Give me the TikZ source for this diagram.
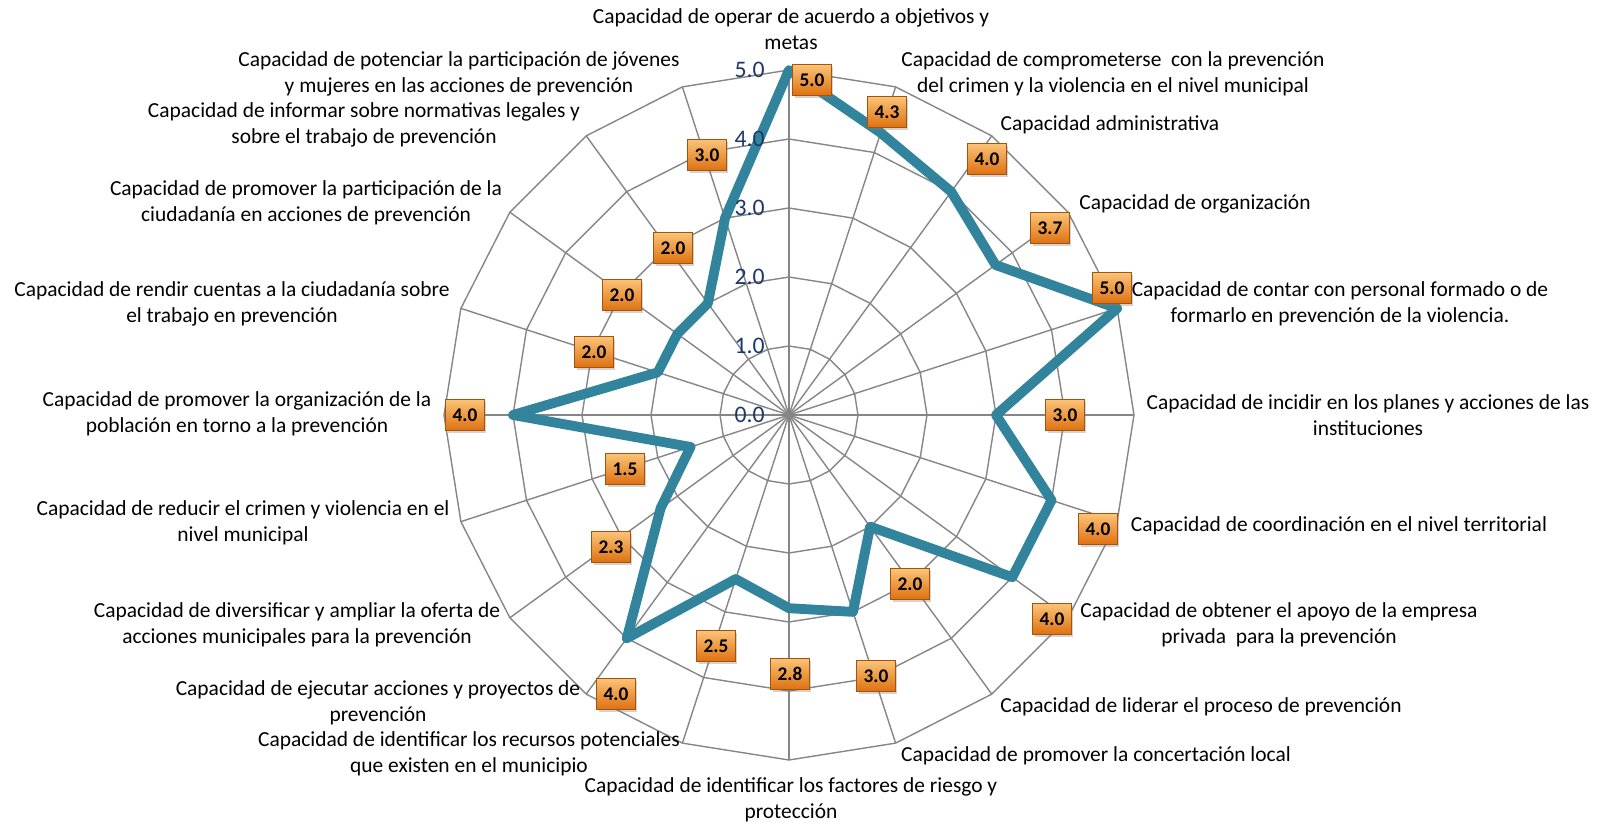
\documentclass[tikz,border=0pt]{standalone}
\usepackage{fontspec}
\setmainfont{Carlito}
\usepackage{xcolor}
\usepackage{tikz}
\usetikzlibrary{positioning}
\usetikzlibrary{shadows}

\definecolor{serie}{RGB}{49,132,155}
\definecolor{rejilla}{RGB}{134,134,134}
\definecolor{eje}{RGB}{28,56,106}
\definecolor{naranjaclaro}{RGB}{251,196,120}
\definecolor{naranjamedio}{RGB}{241,150,45}
\definecolor{naranjaoscuro}{RGB}{222,112,16}
\definecolor{bordenaranja}{RGB}{165,82,12}

\begin{document}
\begin{tikzpicture}[x=0.02cm, y=0.02cm, grid/.style={draw=rejilla, line width=0.8pt}, serie/.style={draw=serie, line width=5.6pt, line join=round}, tick/.style={text=eje, font=\fontsize{13.5}{14}\selectfont, anchor=east, inner sep=0pt}, cat/.style={align=center, font=\fontsize{12.2}{14.6}\selectfont, inner sep=0pt}, valor/.style={rectangle, draw=bordenaranja, line width=0.5pt, top color=naranjaclaro, middle color=naranjamedio, bottom color=naranjaoscuro, font=\fontsize{11}{12}\selectfont\bfseries, minimum width=22pt, minimum height=18pt, inner sep=0pt, drop shadow={shadow xshift=1.2pt, shadow yshift=-1.4pt, opacity=0.35}}]
	\useasboundingbox (-789,-410) rectangle (817,415);
	% rejilla
	\foreach \k in {0,...,19}
		\draw[grid] (0,0) -- ({90-18*\k}:345);
	\foreach \r in {69,138,207,276,345}
		\draw[grid] (90:\r) \foreach \k in {1,...,19}{ -- ({90-18*\k}:\r)} -- cycle;
	% serie
	\foreach \v [count=\k from 0] in {5.0,4.3,4.0,3.7,5.0,3.0,4.0,4.0,2.0,3.0,2.8,2.5,4.0,2.3,1.5,4.0,2.0,2.0,2.0,3.0}
		\coordinate (p\k) at ({90-18*\k}:69*\v);
	\draw[serie] (p0) \foreach \k in {1,...,19}{ -- (p\k)} -- cycle;
	\foreach \v in {0,...,5}
		\node[tick] (t\v) at (-24,69*\v) {\v.0};
	% etiquetas de valor
	\node[valor] (v1) at (23,335) {5.0};
	\node[valor] (v2) at (98,303) {4.3};
	\node[valor] (v3) at (198,256) {4.0};
	\node[valor] (v4) at (261,187) {3.7};
	\node[valor] (v5) at (323,127) {5.0};
	\node[valor] (v6) at (276,0) {3.0};
	\node[valor] (v7) at (309,-114) {4.0};
	\node[valor] (v8) at (263,-204) {4.0};
	\node[valor] (v9) at (121,-169) {2.0};
	\node[valor] (v10) at (87,-261) {3.0};
	\node[valor] (v11) at (1,-259) {2.8};
	\node[valor] (v12) at (-73,-231) {2.5};
	\node[valor] (v13) at (-173,-279) {4.0};
	\node[valor] (v14) at (-178,-132) {2.3};
	\node[valor] (v15) at (-164,-54) {1.5};
	\node[valor] (v16) at (-324,0) {4.0};
	\node[valor] (v17) at (-195,63) {2.0};
	\node[valor] (v18) at (-167,120) {2.0};
	\node[valor] (v19) at (-116,167) {2.0};
	\node[valor] (v20) at (-82,260) {3.0};
	% categorias
	\node[cat] (c1) at (2,386) {Capacidad de operar de acuerdo a objetivos y\\metas};
	\node[cat] (c2) at (324,341) {Capacidad de comprometerse\ \ con la prevención\\del crimen y la violencia en el nivel municipal};
	\node[cat] (c3) at (321,290) {Capacidad administrativa};
	\node[cat] (c4) at (406,211) {Capacidad de organización};
	\node[cat] (c5) at (551,111) {Capacidad de contar con personal formado o de\\formarlo en prevención de la violencia.};
	\node[cat] (c6) at (579,0) {Capacidad de incidir en los planes y acciones de las\\instituciones};
	\node[cat] (c7) at (550,-111) {Capacidad de coordinación en el nivel territorial};
	\node[cat] (c8) at (490,-210) {Capacidad de obtener el apoyo de la empresa\\privada\ \ para la prevención};
	\node[cat] (c9) at (412,-292) {Capacidad de liderar el proceso de prevención};
	\node[cat] (c10) at (307,-341) {Capacidad de promover la concertación local};
	\node[cat] (c11) at (2,-385) {Capacidad de identificar los factores de riesgo y\\protección};
	\node[cat] (c12) at (-320,-339) {Capacidad de identificar los recursos potenciales\\que existen en el municipio};
	\node[cat] (c13) at (-411,-288) {Capacidad de ejecutar acciones y proyectos de\\prevención};
	\node[cat] (c14) at (-492,-210) {Capacidad de diversificar y ampliar la oferta de\\acciones municipales para la prevención};
	\node[cat] (c15) at (-546,-108) {Capacidad de reducir el crimen y violencia en el\\nivel municipal};
	\node[cat] (c16) at (-552,1) {Capacidad de promover la organización de la\\población en torno a la prevención};
	\node[cat] (c17) at (-557,111) {Capacidad de rendir cuentas a la ciudadanía sobre\\el trabajo en prevención};
	\node[cat] (c18) at (-483,212) {Capacidad de promover la participación de la\\ciudadanía en acciones de prevención};
	\node[cat] (c19) at (-425,290) {Capacidad de informar sobre normativas legales y\\sobre el trabajo de prevención};
	\node[cat] (c20) at (-330,341) {Capacidad de potenciar la participación de jóvenes\\y mujeres en las acciones de prevención};
\end{tikzpicture}
\end{document}
